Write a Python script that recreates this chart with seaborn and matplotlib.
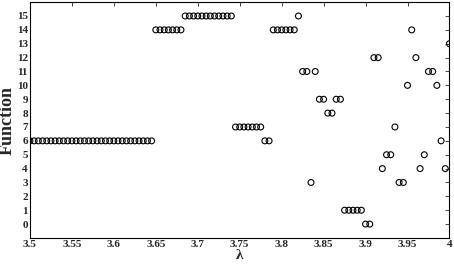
import numpy as np
import pandas as pd
import matplotlib
matplotlib.use("Agg")
import matplotlib.pyplot as plt
import seaborn as sns

# lambda sampled every 0.005 from 3.5 to 4.0
lam = np.round(np.arange(3.5, 4.0001, 0.005), 3)

func = ([6] * 30 + [14] * 7 + [15] * 12 + [7] * 7 + [6, 6] + [14] * 6 + [15]
        + [11, 11, 3, 11, 9, 9, 8, 8, 9, 9] + [1] * 5 + [0, 0]
        + [12, 12, 4, 5, 5, 7, 3, 3, 10, 14, 12, 4, 5, 11, 11, 10, 6, 4, 13])

df = pd.DataFrame({"lambda": lam, "Function": func})

sns.set_style("white")
plt.rcParams["font.family"] = ["Liberation Serif", "DejaVu Serif"]
plt.rcParams["font.weight"] = "bold"

fig, ax = plt.subplots(figsize=(4.54, 2.65), dpi=100)
sns.scatterplot(data=df, x="lambda", y="Function", ax=ax, marker="o",
                s=18, facecolor="none", edgecolor="black", linewidth=0.8)

ax.set_xlim(3.5, 4.0)
ax.set_ylim(-1, 16)
ax.set_xticks([3.5, 3.55, 3.6, 3.65, 3.7, 3.75, 3.8, 3.85, 3.9, 3.95, 4.0])
ax.set_xticklabels(["3.5", "3.55", "3.6", "3.65", "3.7", "3.75", "3.8", "3.85", "3.9", "3.95", "4"])
ax.set_yticks(range(0, 16))
ax.tick_params(direction="in", length=3, width=0.6, labelsize=8,
               top=True, right=True, pad=1.5)
for lbl in ax.get_xticklabels() + ax.get_yticklabels():
    lbl.set_fontweight("bold")
ax.set_xlabel("λ", fontsize=11, fontweight="bold")
ax.set_ylabel("Function", fontsize=13, fontweight="bold")
ax.xaxis.set_label_coords(0.5, -0.045)
ax.yaxis.set_label_coords(-0.034, 0.5)
for sp in ax.spines.values():
    sp.set_color("black")
    sp.set_linewidth(0.8)

fig.subplots_adjust(left=0.066, right=0.99, top=0.992, bottom=0.102)
fig.savefig("out.png", dpi=100)
